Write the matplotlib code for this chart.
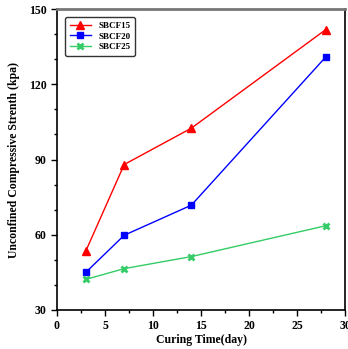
import matplotlib.pyplot as plt
from matplotlib.ticker import MultipleLocator

# Curing time (days) and strength (kpa) per mix
days = [3, 7, 14, 28]
sbcf15 = [53.5, 88.0, 102.5, 141.8]
sbcf20 = [45.0, 59.8, 71.8, 130.9]
sbcf25 = [42.2, 46.5, 51.3, 63.6]

plt.rcParams['font.family'] = ['Liberation Serif', 'DejaVu Serif']
plt.rcParams['font.weight'] = 'bold'

fig = plt.figure(figsize=(3.48, 3.49), dpi=100)
ax = fig.add_axes([57 / 348, 1 - 310 / 349, 288 / 348, 301 / 349])

ax.plot(days, sbcf15, color='red', lw=1, marker='^', ms=5.5, label='SBCF15')
ax.plot(days, sbcf20, color='blue', lw=1, marker='s', ms=4.5,
        mfc='blue', mec='blue', label='SBCF20')
ax.plot(days, sbcf25, color='#33cc66', lw=1, marker='x', ms=4.5, mew=2,
        label='SBCF25')

ax.set_xlim(0, 30)
ax.set_ylim(30, 150)
ax.xaxis.set_major_locator(MultipleLocator(5))
ax.xaxis.set_minor_locator(MultipleLocator(2.5))
ax.yaxis.set_major_locator(MultipleLocator(30))
ax.yaxis.set_minor_locator(MultipleLocator(10))
ax.tick_params(which='both', direction='out', labelsize=8.5, width=1)
ax.tick_params(which='major', length=4)
ax.tick_params(which='minor', length=2.5)

for side in ('left', 'bottom', 'right'):
    ax.spines[side].set_linewidth(1.2)
ax.spines['top'].set_linewidth(2)
ax.spines['top'].set_color('#777777')

ax.set_xlabel('Curing Time(day)', fontsize=8.5, fontweight='bold', labelpad=1)
ax.set_ylabel('Unconfined Compressive Strenth (kpa)', fontsize=8.5,
              fontweight='bold', labelpad=6)

leg = ax.legend(loc='upper left', fontsize=6.5, frameon=True, fancybox=True,
                edgecolor='black', handlelength=2.4, borderaxespad=0.9,
                labelspacing=0.25, borderpad=0.5)
leg.get_frame().set_linewidth(1)

fig.savefig('out.png', dpi=100)
